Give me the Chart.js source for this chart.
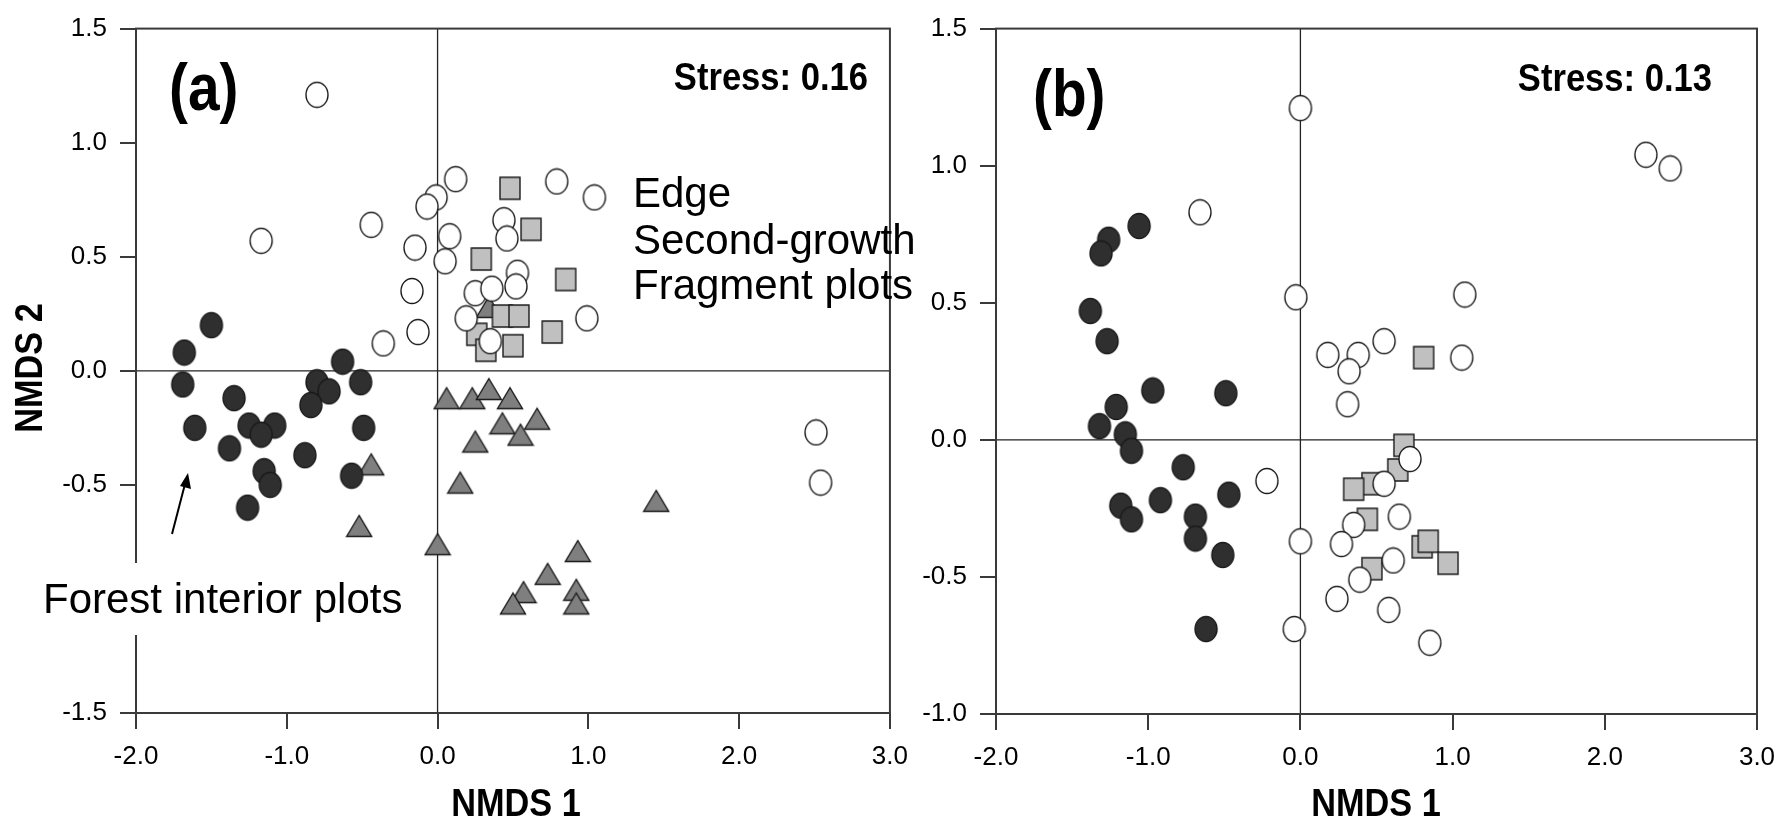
<!DOCTYPE html>
<html>
<head>
  <meta charset="UTF-8">
  <title>NMDS ordination</title>
  <script src="https://cdn.jsdelivr.net/npm/chart.js"></script>
  <style>
    body {
      margin: 0;
      background: white;
      width: 1790px;
      height: 826px;
      position: relative;
      overflow: hidden;
    }
    canvas {
      position: absolute;
      top: 0;
    }
    #panelA { left: 0; }
    #panelB { left: 920px; }
  </style>
</head>
<body>

  <canvas id="panelA" width="920" height="826"></canvas>
  <canvas id="panelB" width="870" height="826"></canvas>

  <script>
    // axis ticks
    const xTicks = [-2, -1, 0, 1, 2, 3];
    const aYTicks = [-1.5, -1.0, -0.5, 0.0, 0.5, 1.0, 1.5];
    const bYTicks = [-1.0, -0.5, 0.0, 0.5, 1.0, 1.5];

    // (a) ordination scores [NMDS 1, NMDS 2]
    const aInterior = [[-1.50,0.20],[-1.68,0.08],[-0.63,0.04],[-1.69,-0.06],[-0.80,-0.05],[-0.72,-0.09],
      [-0.51,-0.05],[-1.35,-0.12],[-0.84,-0.15],[-1.61,-0.25],[-1.25,-0.24],[-1.08,-0.24],[-1.17,-0.28],
      [-0.49,-0.25],[-1.38,-0.34],[-0.88,-0.37],[-1.15,-0.44],[-1.11,-0.50],[-0.57,-0.46],[-1.26,-0.60]];
    const aEdge = [[-0.80,1.21],[-1.17,0.57],[-0.44,0.64],[0.12,0.84],[-0.01,0.76],[-0.07,0.72],[0.08,0.59],
      [-0.15,0.54],[0.05,0.48],[-0.17,0.35],[-0.36,0.12],[-0.13,0.17],[0.44,0.66],[0.46,0.58],[0.79,0.83],
      [1.04,0.76],[0.53,0.43],[0.52,0.37],[0.25,0.34],[0.36,0.36],[0.19,0.23],[0.35,0.13],[0.99,0.23],
      [2.51,-0.27],[2.54,-0.49]];
    const aSecond = [[0.48,0.80],[0.62,0.62],[0.29,0.49],[0.85,0.40],[0.43,0.24],[0.54,0.24],[0.76,0.17],
      [0.26,0.16],[0.32,0.09],[0.50,0.11]];
    const aFragment = [[0.34,0.28],[0.06,-0.12],[0.23,-0.12],[0.34,-0.08],[0.48,-0.12],[0.43,-0.23],[0.66,-0.21],
      [0.55,-0.28],[0.25,-0.31],[-0.44,-0.41],[0.15,-0.49],[-0.52,-0.68],[0.00,-0.76],[1.45,-0.57],[0.93,-0.79],
      [0.73,-0.89],[0.57,-0.97],[0.50,-1.02],[0.92,-0.96],[0.92,-1.02]];

    // (b) ordination scores
    const bInterior = [[-1.06,0.78],[-1.26,0.73],[-1.31,0.68],[-1.38,0.47],[-1.27,0.36],[-0.97,0.18],[-0.49,0.17],
      [-1.21,0.12],[-1.32,0.05],[-1.15,0.02],[-1.11,-0.04],[-0.77,-0.10],[-0.47,-0.20],[-0.92,-0.22],[-1.18,-0.24],
      [-1.11,-0.29],[-0.69,-0.28],[-0.69,-0.36],[-0.51,-0.42],[-0.62,-0.69]];
    const bEdge = [[0.00,1.21],[2.27,1.04],[2.43,0.99],[-0.66,0.83],[-0.03,0.52],[1.08,0.53],[0.55,0.36],[0.18,0.31],
      [0.38,0.31],[0.32,0.25],[1.06,0.30],[0.31,0.13],[0.72,-0.07],[-0.22,-0.15],[0.55,-0.16],[0.65,-0.28],
      [0.35,-0.31],[0.00,-0.37],[0.27,-0.38],[0.61,-0.44],[0.39,-0.51],[0.24,-0.58],[0.58,-0.62],[-0.04,-0.69],
      [0.85,-0.74]];
    const bSecond = [[0.81,0.30],[0.68,-0.02],[0.64,-0.11],[0.47,-0.16],[0.35,-0.18],[0.44,-0.29],[0.80,-0.39],
      [0.84,-0.37],[0.97,-0.45],[0.47,-0.47]];

    const FONT = '"Liberation Sans", Arial, sans-serif';
    const LINE = '#3a3a3a';

    // little sprites for the plot symbols (slightly tall ellipses like the original plot)
    function marker(shape, fill) {
      const c = document.createElement('canvas');
      c.width = 28; c.height = 28;
      const g = c.getContext('2d');
      g.fillStyle = fill;
      g.strokeStyle = '#1a1a1a';
      g.lineWidth = 1.4;
      g.beginPath();
      if (shape === 'circle') g.ellipse(14, 14, 11, 12.5, 0, 0, Math.PI * 2);
      else if (shape === 'square') g.rect(4, 3, 20, 22);
      else { g.moveTo(14, 3.5); g.lineTo(26.5, 24.5); g.lineTo(1.5, 24.5); g.closePath(); }
      g.fill();
      g.stroke();
      return c;
    }

    const symInterior = marker('circle', '#2f2f2f');
    const symEdge = marker('circle', '#ffffff');
    const symSecond = marker('square', '#c0c0c0');
    const symFragment = marker('triangle', '#7f7f7f');

    const toPts = arr => arr.map(([x, y]) => ({ x, y }));

    function series(label, arr, sym, order) {
      return { label, data: toPts(arr), pointStyle: sym, pointRadius: 12, order };
    }

    // bold, horizontally squeezed text
    function narrowText(ctx, text, x, y, size, sx, align) {
      ctx.save();
      ctx.translate(x, y);
      ctx.scale(sx, 1);
      ctx.font = 'bold ' + size + 'px ' + FONT;
      ctx.fillStyle = '#000';
      ctx.textAlign = align;
      ctx.textBaseline = 'alphabetic';
      ctx.fillText(text, 0, 0);
      ctx.restore();
    }

    function makePanel(id, datasets, yTicks, dims, overlay) {
      const framePlugin = {
        id: 'frame',
        beforeDatasetsDraw(chart) {
          const { ctx, chartArea: a, scales } = chart;
          const x0 = scales.x.getPixelForValue(0);
          const y0 = scales.y.getPixelForValue(0);
          ctx.save();
          ctx.strokeStyle = '#222';
          ctx.lineWidth = 1.3;
          ctx.beginPath();
          ctx.moveTo(x0, a.top); ctx.lineTo(x0, a.bottom);
          ctx.moveTo(a.left, y0); ctx.lineTo(a.right, y0);
          ctx.stroke();
          ctx.restore();
        },
        afterDraw(chart) {
          const { ctx, chartArea: a } = chart;
          ctx.save();
          ctx.strokeStyle = LINE;
          ctx.lineWidth = 2;
          ctx.strokeRect(a.left, a.top, a.right - a.left, a.bottom - a.top);
          ctx.restore();
          overlay(ctx, chart);
        }
      };

      return new Chart(document.getElementById(id), {
        type: 'scatter',
        data: { datasets },
        options: {
          responsive: false,
          animation: false,
          devicePixelRatio: 1,
          layout: { padding: { left: 0, top: dims.top, right: dims.right, bottom: 0 } },
          plugins: { legend: { display: false }, tooltip: { enabled: false } },
          scales: {
            x: {
              type: 'linear',
              min: xTicks[0],
              max: xTicks[xTicks.length - 1],
              afterBuildTicks: s => { s.ticks = xTicks.map(v => ({ value: v })); },
              afterFit: s => { s.height = dims.xHeight; },
              border: { display: false },
              grid: { drawOnChartArea: false, drawTicks: true, tickLength: 16, color: LINE, lineWidth: 2 },
              ticks: {
                color: '#000',
                padding: 12,
                font: { family: FONT, size: 26 },
                callback: v => v.toFixed(1)
              }
            },
            y: {
              type: 'linear',
              min: yTicks[0],
              max: yTicks[yTicks.length - 1],
              afterBuildTicks: s => { s.ticks = yTicks.map(v => ({ value: v })); },
              afterFit: s => { s.width = dims.yWidth; },
              border: { display: false },
              grid: { drawOnChartArea: false, drawTicks: true, tickLength: 16, color: LINE, lineWidth: 2 },
              ticks: {
                color: '#000',
                padding: 13,
                font: { family: FONT, size: 26 },
                callback: v => v.toFixed(1)
              }
            }
          }
        },
        plugins: [framePlugin]
      });
    }

    // panel (a)
    makePanel('panelA', [
      series('Edge', aEdge, symEdge, 0),
      series('Forest interior', aInterior, symInterior, 1),
      series('Second-growth', aSecond, symSecond, 2),
      series('Fragment', aFragment, symFragment, 3)
    ], aYTicks, { top: 23, right: 23, yWidth: 136, xHeight: 113 }, (ctx) => {
      narrowText(ctx, '(a)', 169, 110, 66, 0.86, 'left');
      narrowText(ctx, 'Stress: 0.16', 868, 90, 38, 0.91, 'right');
      narrowText(ctx, 'NMDS 1', 516, 816, 39, 0.88, 'center');

      ctx.save();
      ctx.translate(42, 368);
      ctx.rotate(-Math.PI / 2);
      narrowText(ctx, 'NMDS 2', 0, 0, 39, 0.88, 'center');
      ctx.restore();

      ctx.save();
      ctx.fillStyle = '#000';
      ctx.font = '42px ' + FONT;
      ctx.textAlign = 'left';
      ctx.fillText('Edge', 633, 207);
      ctx.fillText('Second-growth', 633, 254);
      ctx.fillText('Fragment plots', 633, 299);

      // label box for the interior group, with its arrow
      ctx.fillStyle = '#fff';
      ctx.fillRect(38, 563, 372, 72);
      ctx.fillStyle = '#000';
      ctx.fillText('Forest interior plots', 43, 613);

      ctx.strokeStyle = '#000';
      ctx.lineWidth = 2;
      ctx.beginPath();
      ctx.moveTo(172, 534);
      ctx.lineTo(185, 484);
      ctx.stroke();
      ctx.beginPath();
      ctx.moveTo(188, 473);
      ctx.lineTo(191, 489);
      ctx.lineTo(180, 486);
      ctx.closePath();
      ctx.fill();
      ctx.restore();
    });

    // panel (b)
    makePanel('panelB', [
      series('Edge', bEdge, symEdge, 0),
      series('Forest interior', bInterior, symInterior, 1),
      series('Second-growth', bSecond, symSecond, 2)
    ], bYTicks, { top: 24, right: 33, yWidth: 76, xHeight: 112 }, (ctx) => {
      narrowText(ctx, '(b)', 113, 116, 66, 0.86, 'left');
      narrowText(ctx, 'Stress: 0.13', 792, 91, 38, 0.91, 'right');
      narrowText(ctx, 'NMDS 1', 456, 816, 39, 0.88, 'center');
    });
  </script>

</body>
</html>
